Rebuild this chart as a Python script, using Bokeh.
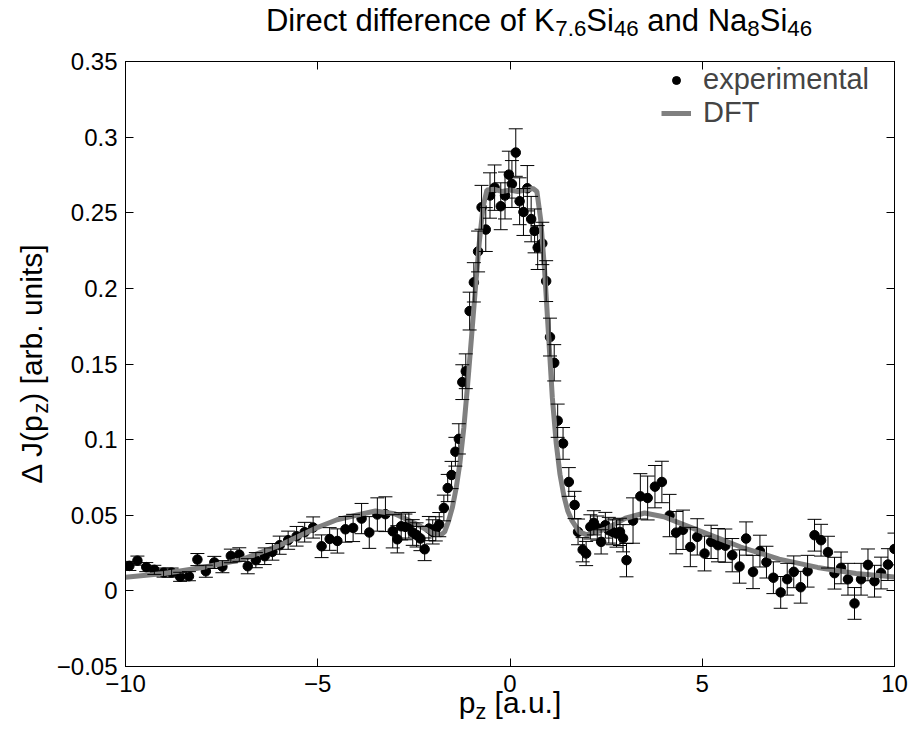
import numpy as np
from bokeh.plotting import figure
from bokeh.models import (Range1d, FixedTicker, LinearAxis, Whisker, TeeHead,
                          ColumnDataSource, Legend, LegendItem, GridBox)
from bokeh.core.properties import value
from bokeh.embed import file_html
from bokeh.resources import INLINE

# ---------------- data ----------------
exp_x = [-9.90, -9.69, -9.46, -9.25, -9.01, -8.80, -8.58, -8.35, -8.13, -7.91,
         -7.69, -7.48, -7.26, -7.04, -6.82, -6.61, -6.38, -6.18, -5.99, -5.77,
         -5.55, -5.34, -5.12, -4.90, -4.69, -4.49, -4.28, -4.08, -3.86, -3.66,
         -3.45, -3.24, -3.05, -2.93, -2.83, -2.72, -2.63, -2.53, -2.43, -2.33,
         -2.22, -2.11, -2.01, -1.93, -1.84, -1.72, -1.62, -1.52, -1.42, -1.33,
         -1.24, -1.15, -1.05, -0.94, -0.83, -0.74, -0.63, -0.52, -0.40, -0.24,
         -0.13, -0.03, 0.05, 0.15, 0.25, 0.35, 0.45, 0.55, 0.64, 0.72,
         0.84, 0.94, 1.04, 1.15, 1.24, 1.38, 1.53, 1.68, 1.77, 1.89,
         1.98, 2.09, 2.18, 2.27, 2.37, 2.48, 2.57, 2.67, 2.77, 2.86,
         2.94, 3.03, 3.20, 3.39, 3.58, 3.77, 3.95, 4.15, 4.32, 4.50,
         4.69, 4.87, 5.06, 5.23, 5.41, 5.60, 5.78, 5.97, 6.14, 6.32,
         6.50, 6.67, 6.85, 7.04, 7.21, 7.38, 7.56, 7.74, 7.92, 8.09,
         8.27, 8.44, 8.61, 8.79, 8.96, 9.13, 9.31, 9.48, 9.65, 9.83, 10.00]
exp_y = [0.0165, 0.0200, 0.0157, 0.0139, 0.0121, 0.0121, 0.0093, 0.0097, 0.0207, 0.0130,
         0.0188, 0.0160, 0.0231, 0.0240, 0.0163, 0.0203, 0.0229, 0.0258, 0.0302, 0.0335,
         0.0361, 0.0388, 0.0419, 0.0295, 0.0343, 0.0330, 0.0407, 0.0416, 0.0478, 0.0386,
         0.0505, 0.0507, 0.0394, 0.0341, 0.0427, 0.0423, 0.0434, 0.0386, 0.0370, 0.0346,
         0.0275, 0.0412, 0.0390, 0.0410, 0.0438, 0.0548, 0.0680, 0.0766, 0.0920, 0.1005,
         0.1380, 0.1452, 0.1850, 0.2040, 0.2244, 0.2536, 0.2389, 0.2614, 0.2666, 0.2543,
         0.2614, 0.2752, 0.2690, 0.2898, 0.2576, 0.2505, 0.2662, 0.2458, 0.2380, 0.2270,
         0.2297, 0.2048, 0.1678, 0.1508, 0.1125, 0.0975, 0.0720, 0.0568, 0.0390, 0.0272,
         0.0247, 0.0423, 0.0450, 0.0415, 0.0324, 0.0434, 0.0401, 0.0390, 0.0379, 0.0390,
         0.0348, 0.0203, 0.0465, 0.0625, 0.0614, 0.0689, 0.0720, 0.0498, 0.0385, 0.0404,
         0.0290, 0.0357, 0.0247, 0.0324, 0.0302, 0.0299, 0.0236, 0.0161, 0.0346, 0.0125,
         0.0263, 0.0190, 0.0087, -0.0010, 0.0077, 0.0126, 0.0024, 0.0130, 0.0368, 0.0335,
         0.0256, 0.0117, 0.0152, 0.0077, -0.0083, 0.0077, 0.0172, 0.0064, 0.0118, 0.0174, 0.0277]
exp_err = [0.0030, 0.0030, 0.0030, 0.0030, 0.0030, 0.0030, 0.0030, 0.0030, 0.0040, 0.0040,
           0.0040, 0.0040, 0.0045, 0.0045, 0.0050, 0.0050, 0.0055, 0.0055, 0.0060, 0.0060,
           0.0065, 0.0065, 0.0070, 0.0075, 0.0075, 0.0080, 0.0085, 0.0090, 0.0100, 0.0105,
           0.0110, 0.0115, 0.0110, 0.0090, 0.0090, 0.0085, 0.0085, 0.0085, 0.0080, 0.0080,
           0.0075, 0.0080, 0.0080, 0.0080, 0.0080, 0.0085, 0.0090, 0.0090, 0.0095, 0.0100,
           0.0115, 0.0115, 0.0125, 0.0130, 0.0135, 0.0145, 0.0145, 0.0150, 0.0150, 0.0155,
           0.0155, 0.0155, 0.0155, 0.0157, 0.0155, 0.0155, 0.0150, 0.0150, 0.0145, 0.0145,
           0.0140, 0.0135, 0.0125, 0.0120, 0.0110, 0.0105, 0.0095, 0.0090, 0.0085, 0.0080,
           0.0080, 0.0080, 0.0080, 0.0080, 0.0080, 0.0085, 0.0085, 0.0085, 0.0090, 0.0090,
           0.0090, 0.0110, 0.0150, 0.0150, 0.0145, 0.0140, 0.0137, 0.0140, 0.0140, 0.0130,
           0.0130, 0.0120, 0.0115, 0.0110, 0.0110, 0.0110, 0.0110, 0.0110, 0.0110, 0.0110,
           0.0105, 0.0105, 0.0105, 0.0105, 0.0105, 0.0105, 0.0105, 0.0105, 0.0105, 0.0105,
           0.0105, 0.0105, 0.0105, 0.0105, 0.0105, 0.0105, 0.0105, 0.0105, 0.0105, 0.0105, 0.0105]

dft_x = [-10.0, -9.0, -8.0, -7.0, -6.0, -5.0, -4.5, -4.0, -3.5, -3.0,
         -2.5, -2.0, -1.8, -1.7, -1.6, -1.5, -1.4, -1.3, -1.2, -1.1,
         -1.0, -0.9, -0.8, -0.7, -0.6, -0.4, -0.2, 0.0, 0.2, 0.4,
         0.6, 0.7, 0.8, 0.9, 1.0, 1.1, 1.2, 1.3, 1.4, 1.5,
         1.6, 1.8, 2.0, 2.5, 3.0, 3.5, 4.0, 4.5, 5.0, 5.5,
         6.0, 7.0, 8.0, 9.0, 10.0]
dft_y = [0.0090, 0.0115, 0.0155, 0.0205, 0.0300, 0.0420, 0.0470, 0.0500, 0.0528, 0.0510,
         0.0450, 0.0380, 0.0370, 0.0390, 0.0460, 0.0550, 0.0680, 0.0850, 0.1080, 0.1370,
         0.1680, 0.2000, 0.2300, 0.2540, 0.2650, 0.2655, 0.2640, 0.2650, 0.2640, 0.2650,
         0.2660, 0.2640, 0.2450, 0.2120, 0.1700, 0.1280, 0.0980, 0.0770, 0.0630, 0.0530,
         0.0470, 0.0390, 0.0370, 0.0410, 0.0480, 0.0515, 0.0490, 0.0440, 0.0390, 0.0340,
         0.0290, 0.0210, 0.0155, 0.0115, 0.0092]

x_ticks = [-10, -5, 0, 5, 10]
x_tick_labels = ["\u221210", "\u22125", "0", "5", "10"]
y_ticks = [-0.05, 0, 0.05, 0.1, 0.15, 0.2, 0.25, 0.3, 0.35]
y_tick_labels = ["\u22120.05", "0", "0.05", "0.1", "0.15", "0.2", "0.25", "0.3", "0.35"]

legend_labels = ["experimental", "DFT"]
title_parts = [("Direct difference of K", False), ("7.6", True), ("Si", False),
               ("46", True), (" and Na", False), ("8", True), ("Si", False), ("46", True)]
xlabel_parts = [("p", False), ("z", True), (" [a.u.]", False)]
ylabel_parts = [("\u0394 J(p", False), ("z", True), (") [arb. units]", False)]

# ---------------- layout constants ----------------
W, H = 911, 738
FL, FT, FW, FH = 125, 61, 769, 605
X0, X1, Y0, Y1 = -10, 10, -0.05, 0.35
FONT = "Liberation Sans"
GRAY = "#808080"

# ---------------- main plot ----------------
p = figure(frame_width=FW, frame_height=FH,
           min_border_left=FL, min_border_right=W - FL - FW,
           min_border_top=FT, min_border_bottom=H - FT - FH,
           x_range=Range1d(X0, X1), y_range=Range1d(Y0, Y1),
           output_backend="svg", toolbar_location=None)
p.frame_align = False
p.background_fill_color = "white"
p.border_fill_color = "white"
p.outline_line_color = "black"
p.outline_line_width = 1
p.grid.visible = False

xo = dict(zip(x_ticks, x_tick_labels))
yo = dict(zip(y_ticks, y_tick_labels))


def style_axis(ax, ticks, overrides, show_labels):
    ax.ticker = FixedTicker(ticks=ticks)
    ax.major_tick_in = 8
    ax.major_tick_out = 0
    ax.minor_tick_in = 0
    ax.minor_tick_out = 0
    ax.axis_line_color = "black"
    ax.major_tick_line_color = "black"
    ax.major_label_text_font = FONT
    ax.major_label_text_color = "black"
    ax.major_label_text_font_size = "24px"
    if show_labels:
        ax.major_label_standoff = 8
        ax.major_label_overrides = overrides
    else:
        ax.major_label_standoff = 0
        ax.major_label_overrides = {t: "" for t in ticks}


style_axis(p.xaxis[0], x_ticks, xo, True)
style_axis(p.yaxis[0], y_ticks, yo, True)
top_ax = LinearAxis()
right_ax = LinearAxis()
style_axis(top_ax, x_ticks, xo, False)
style_axis(right_ax, y_ticks, yo, False)
p.add_layout(top_ax, "above")
p.add_layout(right_ax, "right")

src = ColumnDataSource(dict(
    x=exp_x, y=exp_y,
    upper=[a + b for a, b in zip(exp_y, exp_err)],
    lower=[a - b for a, b in zip(exp_y, exp_err)]))

r_pts = p.scatter(x="x", y="y", source=src, size=9.5, color="black", level="image")
r_dft = p.line(x=dft_x, y=dft_y, line_color=GRAY, line_width=5, level="image")
wh = Whisker(source=src, base="x", upper="upper", lower="lower",
             line_color="black", line_width=1,
             upper_head=TeeHead(size=14, line_color="black", line_width=1),
             lower_head=TeeHead(size=14, line_color="black", line_width=1))
p.add_layout(wh)

leg = Legend(items=[LegendItem(label=legend_labels[0], renderers=[r_pts]),
                    LegendItem(label=legend_labels[1], renderers=[r_dft])],
             location=(661 - FL, FT + FH - 129),
             border_line_color=None, background_fill_alpha=0,
             label_text_font=FONT, label_text_font_size="29px",
             label_text_line_height=0.8, label_height=20,
             glyph_width=30, glyph_height=20, label_standoff=12,
             padding=6, spacing=0, margin=0)
p.add_layout(leg)

# ---------------- transparent overlay for texts with subscripts ----------------
# Liberation Sans (Arial-metric) advance widths per 1000 em
AW = {' ': 278, '(': 333, ')': 333, '.': 278, '[': 278, ']': 278,
      'D': 722, 'K': 667, 'S': 667, 'N': 722, 'J': 500, '\u0394': 668,
      'a': 556, 'b': 556, 'c': 500, 'd': 556, 'e': 556, 'f': 278, 'i': 222,
      'l': 222, 'm': 833, 'n': 556, 'o': 556, 'p': 556, 'r': 333, 's': 500,
      't': 278, 'u': 556, 'x': 500, 'z': 500}


def tw(s, size):
    return sum(AW.get(c, 556) for c in s) * size / 1000.0


SUB = 0.72
rows = dict(x=[], y=[], text=[], fs=[], angle=[])


def lay(parts, size, start, base, shift, vertical=False):
    total = sum(tw(t, size * (SUB if s else 1)) for t, s in parts)
    pos = start(total)
    for txt, is_sub in parts:
        fs = size * SUB if is_sub else size
        off = shift if is_sub else 0
        lead = len(txt) - len(txt.lstrip(" "))
        adv0 = tw(" " * lead, fs)
        body = txt.lstrip(" ")
        if vertical:
            rows["x"].append(base + off)
            rows["y"].append(H - (pos - adv0))
            rows["angle"].append(np.pi / 2)
            pos -= tw(txt, fs)
        else:
            rows["x"].append(pos + adv0)
            rows["y"].append(H - (base + off))
            rows["angle"].append(0.0)
            pos += tw(txt, fs)
        rows["text"].append(body)
        rows["fs"].append("%.1fpx" % fs)


TS, LS = 31, 30
lay(title_parts, TS, lambda w: 538.5 - w / 2, 20, 8)
lay(xlabel_parts, LS, lambda w: FL + FW / 2 - w / 2, 702, 9)
lay(ylabel_parts, LS, lambda w: FT + FH / 2 + w / 2, 31, 9, vertical=True)

ov = figure(width=W, height=H, x_range=Range1d(0, W), y_range=Range1d(0, H),
            min_border=0, x_axis_location=None, y_axis_location=None,
            output_backend="svg", toolbar_location=None)
ov.frame_align = False
ov.outline_line_color = None
ov.background_fill_alpha = 0
ov.border_fill_alpha = 0
ov.grid.visible = False
ov.text(x="x", y="y", text="text", angle="angle", text_font_size="fs",
        source=ColumnDataSource(rows), text_font=value(FONT), text_color="black",
        text_align="left", text_baseline="alphabetic")

root = GridBox(children=[(p, 0, 0), (ov, 0, 0)])
open("out.html", "w").write(file_html(root, INLINE))
